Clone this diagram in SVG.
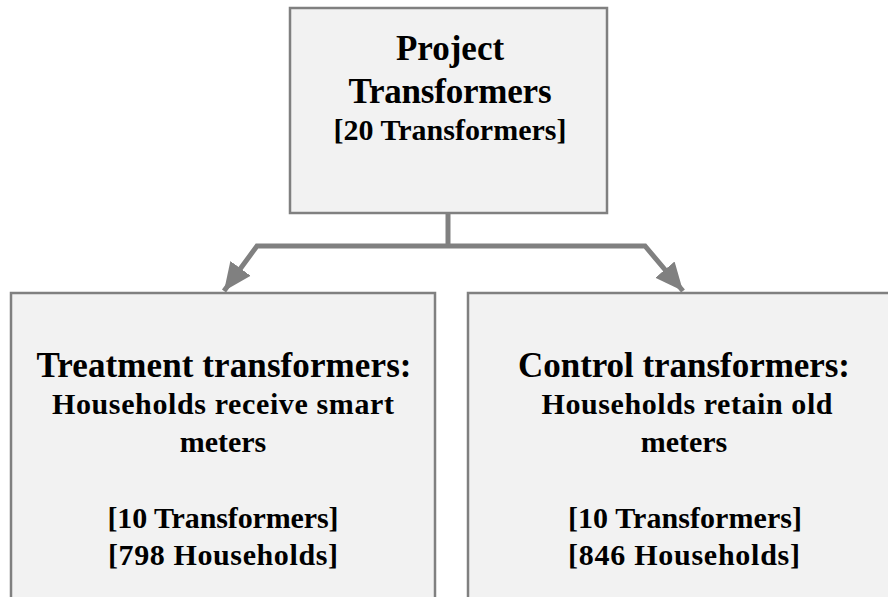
<svg xmlns="http://www.w3.org/2000/svg" width="888" height="597" viewBox="0 0 888 597">
<defs>
<style>
.box{fill:#f2f2f2;stroke:#808080;stroke-width:2.5}
.t{font-family:"Liberation Serif","Times New Roman",serif;font-weight:bold;fill:#000;text-anchor:middle}
.h{font-size:35px}
.s{font-size:30px}
.conn{fill:none;stroke:#808080;stroke-width:5;stroke-linejoin:miter}
</style>
<marker id="ah" viewBox="0 0 10 10" refX="10" refY="5" markerWidth="28" markerHeight="28" markerUnits="userSpaceOnUse" orient="auto">
<path d="M0,0.5 L10,5 L0,9.5 Z" fill="#808080"/>
</marker>
</defs>
<rect width="888" height="597" fill="#fff"/>
<g id="connectors">
<path class="conn" d="M448,213 V246"/>
<path class="conn" d="M448,246 H257 L224,291" marker-end="url(#ah)"/>
<path class="conn" d="M448,246 H645 L683,291" marker-end="url(#ah)"/>
</g>
<g id="project">
<rect class="box" x="290" y="8" width="317" height="205"/>
<text class="t h" x="450" y="60">Project</text>
<text class="t h" x="450" y="103" textLength="203">Transformers</text>
<text class="t s" x="450" y="140" textLength="233">[20 Transformers]</text>
</g>
<g id="treatment">
<rect class="box" x="11" y="293" width="424" height="320"/>
<text class="t h" x="224" y="377" textLength="375">Treatment transformers:</text>
<text class="t s" x="223" y="414" textLength="342">Households receive smart</text>
<text class="t s" x="223" y="452">meters</text>
<text class="t s" x="223" y="528" textLength="231">[10 Transformers]</text>
<text class="t s" x="223" y="565" textLength="230">[798 Households]</text>
</g>
<g id="control">
<rect class="box" x="468" y="293" width="440" height="320"/>
<text class="t h" x="684" y="377" textLength="332">Control transformers:</text>
<text class="t s" x="687" y="414" textLength="291">Households retain old</text>
<text class="t s" x="684" y="452">meters</text>
<text class="t s" x="685" y="528" textLength="234">[10 Transformers]</text>
<text class="t s" x="684" y="565" textLength="232">[846 Households]</text>
</g>
</svg>
